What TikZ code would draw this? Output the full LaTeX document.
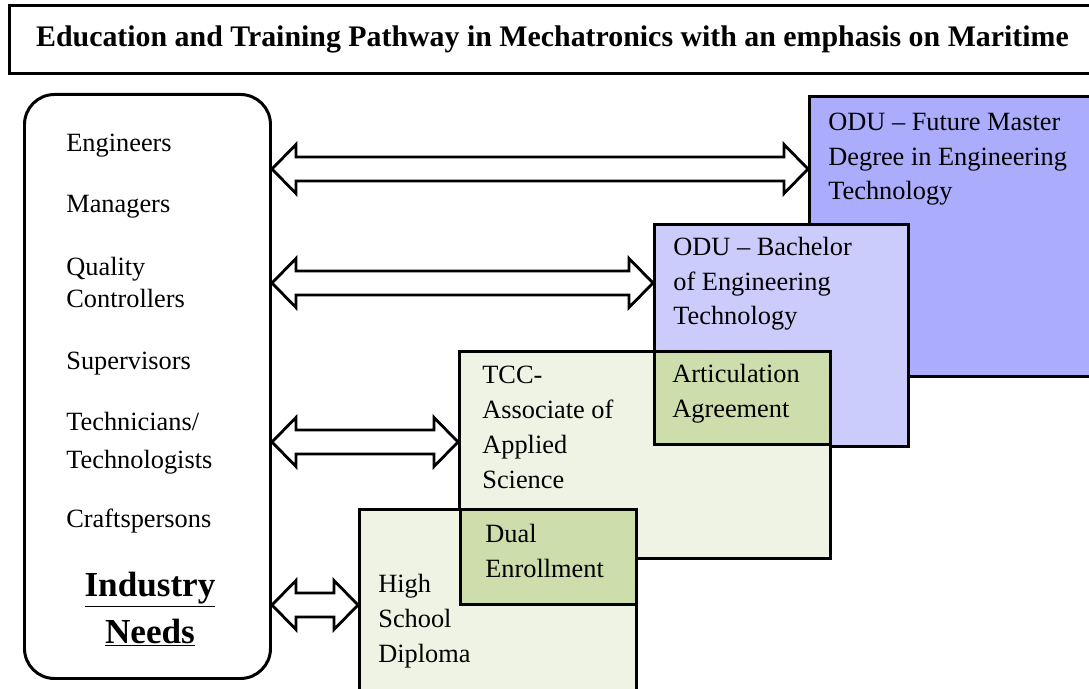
\documentclass[tikz,border=0pt]{standalone}
\usepackage{fontspec}
\setmainfont{Liberation Serif}
\usetikzlibrary{calc}

\definecolor{masterblue}{RGB}{172,172,252}
\definecolor{bachblue}{RGB}{204,204,252}
\definecolor{palegreen}{RGB}{239,243,228}
\definecolor{agreegreen}{RGB}{205,221,172}

\newcommand{\pxu}{0.02cm}
% hollow two-headed block arrow, both ends on one level
\newcommand{\dblarrow}[2]{%
  \draw[blockarrow] let \p1=(#1), \p2=(#2) in
    (\x1,\y1) -- (\x1+0.48cm,\y1+0.49cm) -- (\x1+0.48cm,\y1+0.24cm)
    -- (\x2-0.48cm,\y1+0.24cm) -- (\x2-0.48cm,\y1+0.49cm) -- (\x2,\y1)
    -- (\x2-0.48cm,\y1-0.49cm) -- (\x2-0.48cm,\y1-0.24cm)
    -- (\x1+0.48cm,\y1-0.24cm) -- (\x1+0.48cm,\y1-0.49cm) -- cycle;}

\begin{document}
\begin{tikzpicture}
        [x=0.02cm, y=-0.02cm,
        box/.style={draw, line width=1.7pt, rectangle, anchor=north west, inner sep=0pt},
        boxtext/.style={anchor=base west, align=left, inner sep=0pt, font=\fontsize{15}{19.8}\selectfont},
        listtext/.style={anchor=base west, align=left, inner sep=0pt, font=\fontsize{15}{18.5}\selectfont},
        blockarrow/.style={draw, line width=1.6pt, fill=white, line join=miter}]
        \useasboundingbox (0,0) rectangle (1089,689);
        \clip (0,0) rectangle (1089,689);

        \node[box, fill=white, minimum width=1086*\pxu, minimum height=68*\pxu,
              font=\fontsize{17}{20}\selectfont\bfseries] (title) at (8,4)
              {Education and Training Pathway in Mechatronics with an emphasis on Maritime};

        % industry side (text nodes sit on the baseline of their last line)
        \node[box, fill=white, rounded corners=0.6cm, minimum width=246*\pxu, minimum height=584*\pxu] (needs) at (23,93) {};
        \node[listtext] (eng) at (66,152) {Engineers};
        \node[listtext] (man) at (66,213) {Managers};
        \node[listtext] (qual) at (66,308) {Quality\\Controllers};
        \node[listtext] (sup) at (66,369) {Supervisors};
        \node[listtext, font=\fontsize{15}{21.6}\selectfont] (tech) at (66,468) {Technicians/\\Technologists};
        \node[listtext] (craft) at (66,527) {Craftspersons};
        \node[anchor=base, align=center, inner sep=0pt, font=\fontsize{20}{26.7}\selectfont\bfseries] (ind) at (150,643)
              {\underline{Industry}\\\underline{Needs}};

        % pathway boxes
        \node[box, fill=masterblue, minimum width=300*\pxu, minimum height=280*\pxu] (master) at (808,95) {};
        \node[box, fill=bachblue, minimum width=254*\pxu, minimum height=222*\pxu] (bach) at (653,223) {};
        \node[box, fill=palegreen, minimum width=371*\pxu, minimum height=207*\pxu] (tcc) at (458,350) {};
        \node[box, fill=agreegreen, minimum width=176*\pxu, minimum height=93*\pxu] (agree) at (653,350) {};
        \node[box, fill=palegreen, minimum width=277*\pxu, minimum height=200*\pxu] (high) at (358,508) {};
        \node[box, fill=agreegreen, minimum width=176*\pxu, minimum height=95*\pxu] (dual) at (459,508) {};

        \node[boxtext] (mastertxt) at (828,200) {ODU -- Future Master\\Degree in Engineering\\Technology};
        \node[boxtext] (bachtxt) at (673,325) {ODU -- Bachelor\\of Engineering\\Technology};
        \node[boxtext] (tcctxt) at (482,488) {TCC-\\Associate of\\Applied\\Science};
        \node[boxtext] (agreetxt) at (672,417) {Articulation\\Agreement};
        \node[boxtext] (hightxt) at (378,662) {High\\School\\Diploma};
        \node[boxtext] (dualtxt) at (485,577) {Dual\\Enrollment};

        \dblarrow{needs.east |- 0,169}{master.west |- 0,169}
        \dblarrow{needs.east |- 0,283}{bach.west |- 0,283}
        \dblarrow{needs.east |- 0,442}{tcc.west |- 0,442}
        \dblarrow{needs.east |- 0,605}{high.west |- 0,605}

    \end{tikzpicture}
\end{document}
